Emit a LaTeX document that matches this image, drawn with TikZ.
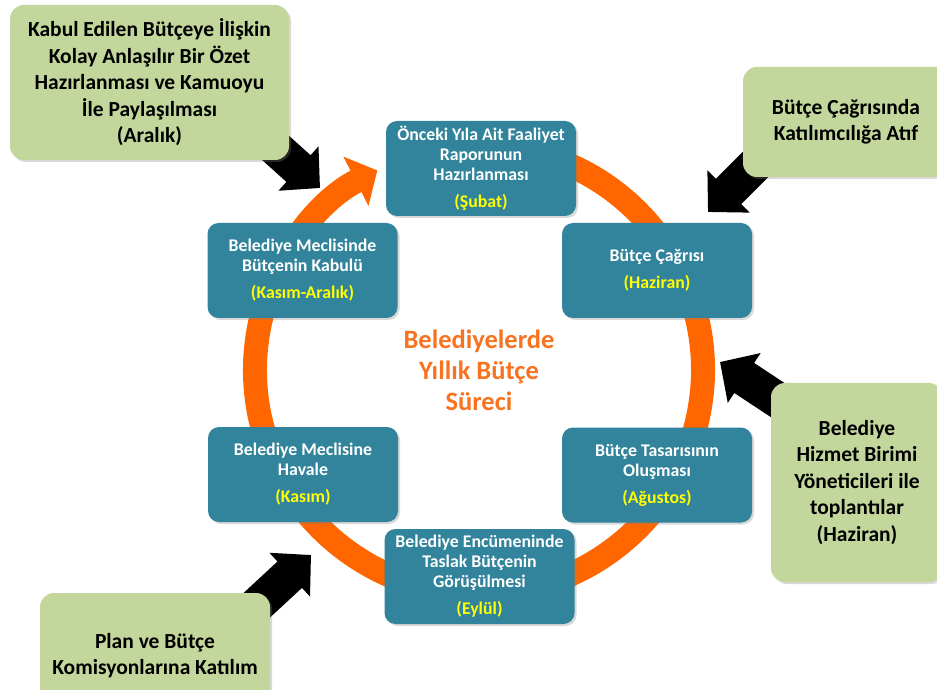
\documentclass[tikz,border=0pt]{standalone}
\usepackage{fontspec}
\setmainfont{Carlito}
\usetikzlibrary{arrows.meta,shadows,calc}

\definecolor{tealbox}{HTML}{31849B}
\definecolor{greenbox}{HTML}{C3D69B}
\definecolor{ringorange}{HTML}{FF6600}
\definecolor{titleorange}{HTML}{F8731F}
\definecolor{monthyellow}{HTML}{FFFF00}

\pgfdeclarelayer{behind}
\pgfsetlayers{behind,main}

\newcommand\monthline[1]{\\[7pt]\textcolor{monthyellow}{#1}}

\tikzset{
  stage/.style={fill=tealbox, rounded corners=11pt, minimum width=190pt,
    minimum height=95pt, text=white, align=center, inner sep=2pt,
    font=\bfseries\fontsize{17.8}{20}\selectfont,
    drop shadow={opacity=0.3, shadow xshift=2pt, shadow yshift=-2pt}},
  note/.style={fill=greenbox, rounded corners=14pt, align=center, inner sep=2pt,
    font=\bfseries\fontsize{21.5}{26.5}\selectfont,
    drop shadow={opacity=0.3, shadow xshift=2pt, shadow yshift=-2pt}},
  blockarrow/.style={line width=36pt, black, -{Triangle[length=29pt, width=58pt]}},
  cyclering/.style={line width=24pt, ringorange, -{Triangle[length=24pt, width=54pt]}},
}

\begin{document}
\begin{tikzpicture}[x=1pt, y=1pt]
  \useasboundingbox (0,0) rectangle (937,689);

  % stages of the budget year
  \node[stage] (feb) at (481,520.5) {Önceki Yıla Ait Faaliyet\\Raporunun\\Hazırlanması\monthline{(Şubat)}};
  \node[stage] (jun) at (657,418.5) {Bütçe Çağrısı\monthline{(Haziran)}};
  \node[stage] (aug) at (657,214) {Bütçe Tasarısının\\Oluşması\monthline{(Ağustos)}};
  \node[stage] (sep) at (479.5,112.5) {Belediye Encümeninde\\Taslak Bütçenin\\Görüşülmesi\monthline{(Eylül)}};
  \node[stage] (nov) at (303,214.5) {Belediye Meclisine\\Havale\monthline{(Kasım)}};
  \node[stage] (dec) at (302.5,418.5) {Belediye Meclisinde\\Bütçenin Kabulü\monthline{(Kasım-Aralık)}};

  % participation points
  \node[note, minimum width=279pt, minimum height=155pt] (summary) at (149.5,606.5)
    {Kabul Edilen Bütçeye İlişkin\\Kolay Anlaşılır Bir Özet\\Hazırlanması ve Kamuoyu\\İle Paylaşılması\\(Aralık)};
  \node[note, minimum width=206pt, minimum height=110pt] (call) at (846,567)
    {Bütçe Çağrısında\\Katılımcılığa Atıf};
  \node[note, minimum width=172pt, minimum height=199pt] (units) at (857,206.5)
    {Belediye\\Hizmet Birimi\\Yöneticileri ile\\toplantılar\\(Haziran)};
  \node[note, minimum width=230pt, minimum height=125pt] (commission) at (155,33.5)
    {Plan ve Bütçe\\Komisyonlarına Katılım};

  % arrow tips pointing into the cycle
  \coordinate (tipA) at (320,501);
  \coordinate (tipB) at (708,477);
  \coordinate (tipC) at (720,327);
  \coordinate (tipD) at (311,134);
  \coordinate (hub) at (479,319);

  \begin{pgfonlayer}{behind}
    % annual cycle ring
    \draw[cyclering] ($(hub)+(80:224)$) arc[start angle=80, end angle=-243, radius=224];
    % block arrows emerging from behind the notes
    \draw[blockarrow, shorten <=-30pt] (summary.south east) -- (tipA);
    \draw[blockarrow, shorten <=-30pt] (call.south west) -- (tipB);
    \draw[blockarrow, shorten <=-20pt] ($(units.north west)+(8,-18)$) -- (tipC);
    \draw[blockarrow, shorten <=-30pt] (commission.north east) -- (tipD);
  \end{pgfonlayer}

  % title in the middle of the ring
  \node[text=titleorange, align=center, font=\bfseries\fontsize{26.5}{31}\selectfont] (title) at (hub)
    {Belediyelerde\\Yıllık Bütçe\\Süreci};
\end{tikzpicture}
\end{document}
